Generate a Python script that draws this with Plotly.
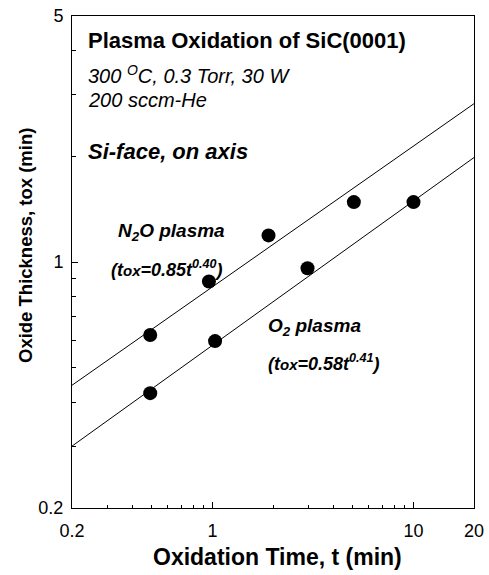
import numpy as np
import plotly.graph_objects as go

# Measured oxide thickness vs. oxidation time
t_n2o = [0.49, 0.96, 1.9, 5.05]
tox_n2o = [0.62, 0.88, 1.19, 1.48]
t_o2 = [0.49, 1.03, 2.97, 10.0]
tox_o2 = [0.424, 0.596, 0.96, 1.48]

# Power-law fits tox = A * t^n
fit_A = [0.85, 0.58]
fit_n = [0.40, 0.41]

x_ticks = [0.2, 1, 10, 20]
y_ticks = [0.2, 1, 5]
x_minor = [0.3, 0.4, 0.5, 0.6, 0.7, 0.8, 0.9, 2, 3, 4, 5, 6, 7, 8, 9]
y_minor = [0.3, 0.4, 0.5, 0.6, 0.7, 0.8, 0.9, 2, 3, 4]

X_MIN, X_MAX = 0.2, 20
Y_MIN, Y_MAX = 0.2, 5

W, H = 489, 575
ML, MR, MT, MB = 72, 15, 16, 67
PW, PH = W - ML - MR, H - MT - MB

FONT = "Liberation Sans, Arial, sans-serif"

fig = go.Figure()

t_line = np.array([X_MIN, X_MAX])
for A, n in zip(fit_A, fit_n):
    fig.add_trace(go.Scatter(
        x=t_line, y=A * t_line ** n, mode="lines",
        line=dict(color="black", width=1), hoverinfo="skip", showlegend=False,
    ))

for xs, ys in [(t_n2o, tox_n2o), (t_o2, tox_o2)]:
    fig.add_trace(go.Scatter(
        x=xs, y=ys, mode="markers",
        marker=dict(color="black", size=14, line=dict(width=0)),
        showlegend=False,
    ))


def px(x, y):
    """Convert pixel position on the page to paper coordinates."""
    return (x - ML) / PW, (MT + PH - y) / PH


def label(text, x, y, size, anchor="left", angle=0):
    xp, yp = px(x, y)
    fig.add_annotation(
        text=text, x=xp, y=yp, xref="paper", yref="paper",
        xanchor=anchor, yanchor="middle", showarrow=False, textangle=angle,
        font=dict(family=FONT, size=size, color="black"),
    )


label("<b>Plasma Oxidation of SiC(0001)</b>", 86, 41, 22)
label("<i>300 <sup>O</sup>C, 0.3 Torr, 30 W</i>", 86, 74, 20)
label("<i>200 sccm-He</i>", 86, 100, 20)
label("<b><i>Si-face, on axis</i></b>", 86, 152, 22)

small = "<span style='font-size:15px'>ox</span>"
label("<b><i>N<sub>2</sub>O plasma</i></b>", 116, 232, 19)
label(f"<b><i>(t{small}=0.85t<sup>0.40</sup>)</i></b>", 109, 268, 18)
label("<b><i>O<sub>2</sub> plasma</i></b>", 266, 327, 19)
label(f"<b><i>(t{small}=0.58t<sup>0.41</sup>)</i></b>", 266, 362, 18)

label("<b>Oxidation Time, t (min)</b>", 277, 557, 23, anchor="center")
label("<b>Oxide Thickness, tox (min)</b>", 25, 246, 18.5, anchor="center", angle=-90)

axis_common = dict(
    type="log", showgrid=False, zeroline=False,
    showline=True, linecolor="black", linewidth=1, mirror=True,
    ticks="inside", ticklen=6, tickwidth=1, tickcolor="black",
    tickfont=dict(family=FONT, size=18, color="black"),
)

fig.update_xaxes(
    range=[np.log10(X_MIN), np.log10(X_MAX)],
    tickvals=x_ticks, ticktext=[str(v) for v in x_ticks],
    minor=dict(tickvals=x_minor, ticks="inside", ticklen=3, tickcolor="black"),
    ticklabelstandoff=6,
    **axis_common,
)
fig.update_yaxes(
    range=[np.log10(Y_MIN), np.log10(Y_MAX)],
    tickvals=y_ticks, ticktext=[str(v) for v in y_ticks],
    minor=dict(tickvals=y_minor, ticks="inside", ticklen=4, tickcolor="black"),
    ticklabelstandoff=4,
    **axis_common,
)

fig.update_layout(
    width=W, height=H,
    margin=dict(l=ML, r=MR, t=MT, b=MB, autoexpand=False),
    plot_bgcolor="white", paper_bgcolor="white",
    font=dict(family=FONT, color="black"),
)

fig.write_html("out.html")
